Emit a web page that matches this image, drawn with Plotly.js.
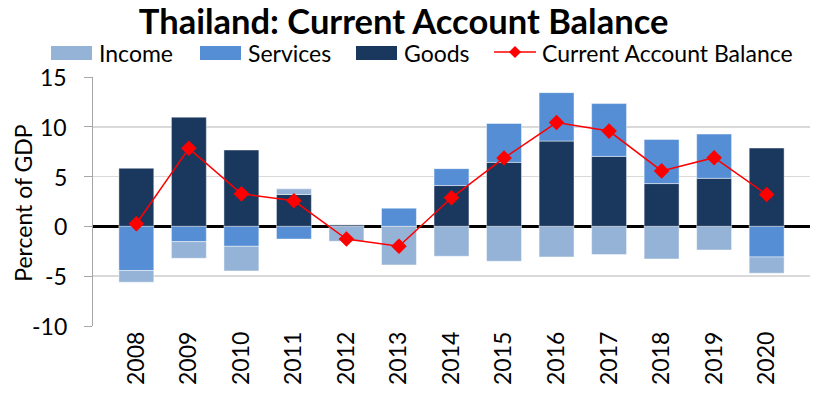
<!DOCTYPE html>
<html><head><meta charset="utf-8">
<script src="https://cdn.plot.ly/plotly-3.0.1.min.js"></script>
<style>html,body{margin:0;padding:0;background:#fff;}#chart{width:817px;height:400px;}</style>
</head><body><div id="chart"></div>
<script>
const years = ['2008','2009','2010','2011','2012','2013','2014','2015','2016','2017','2018','2019','2020'];
const goods = [5.84, 10.97, 7.67, 3.2, 0.17, 0.0, 4.1, 6.43, 8.57, 7.03, 4.3, 4.83, 7.87];
const services = [-4.43, -1.53, -2.0, -1.27, 0.0, 1.83, 1.7, 3.9, 4.86, 5.3, 4.43, 4.44, -3.07];
const income = [-1.17, -1.67, -2.47, 0.57, -1.5, -3.87, -3.0, -3.5, -3.07, -2.83, -3.27, -2.37, -1.63];
const currentAccount = [0.27, 7.84, 3.27, 2.57, -1.27, -2.0, 2.87, 6.87, 10.43, 9.57, 5.57, 6.9, 3.2];
const yTickVals = [-10, -5, 0, 5, 10, 15];
const yTickText = ['-10', '-5', '0', '5', '10', '15'];
const legendNames = ['Income', 'Services', 'Goods', 'Current Account Balance'];

const F = 'Lato, "Open Sans", sans-serif';
const COL = {goods: '#1a375e', services: '#558ed5', income: '#95b3d7', ca: '#ff0000'};
const edge = {color: 'rgba(255,255,255,0.45)', width: 1};
const traces = [
  {type: 'bar', name: 'Goods', x: years, y: goods, marker: {color: COL.goods, line: edge}},
  {type: 'bar', name: 'Services', x: years, y: services, marker: {color: COL.services, line: edge}},
  {type: 'bar', name: 'Income', x: years, y: income, marker: {color: COL.income, line: edge}},
  {type: 'scatter', mode: 'lines+markers', name: 'Current Account Balance', x: years, y: currentAccount,
   line: {color: COL.ca, width: 1.5}, marker: {symbol: 'diamond', size: 12, color: COL.ca}}
];

// plot-area geometry (pixels) used for the hand-built legend, y title and y tick labels
const PL = 93, PW = 717, PB = 326.5, PH = 249.5;
const px = v => (v - PL) / PW;
const py = v => (PB - v) / PH;
const legY = 53;
const shapes = [];
const annotations = [];
const swatches = [[51, COL.income], [200, COL.services], [356, COL.goods]];
swatches.forEach(([x0, c], i) => {
  shapes.push({type: 'rect', xref: 'paper', yref: 'paper', x0: px(x0), x1: px(x0 + 41), y0: py(legY + 7), y1: py(legY - 7),
               fillcolor: c, line: {width: 0}});
  annotations.push({xref: 'paper', yref: 'paper', x: px(x0 + 46), y: py(legY), xanchor: 'left', yanchor: 'middle',
                    text: legendNames[i], showarrow: false, font: {family: F, size: 23, color: '#000'}});
});
shapes.push({type: 'line', xref: 'paper', yref: 'paper', x0: px(494), x1: px(536), y0: py(legY - 1), y1: py(legY - 1),
             line: {color: COL.ca, width: 1.5}});
shapes.push({type: 'path', xref: 'paper', yref: 'paper', xsizemode: 'pixel', ysizemode: 'pixel',
             xanchor: px(515), yanchor: py(legY - 1), path: 'M -6 0 L 0 6 L 6 0 L 0 -6 Z',
             fillcolor: COL.ca, line: {width: 0}});
annotations.push({xref: 'paper', yref: 'paper', x: px(540), y: py(legY), xanchor: 'left', yanchor: 'middle',
                  text: legendNames[3], showarrow: false, font: {family: F, size: 23, color: '#000'}});
annotations.push({xref: 'paper', yref: 'paper', x: px(23), y: py(203), xanchor: 'center', yanchor: 'middle',
                  textangle: -90, text: 'Percent of GDP', showarrow: false, font: {family: F, size: 23, color: '#000'}});
yTickVals.forEach((v, i) => {
  annotations.push({xref: 'paper', yref: 'y', x: px(69), y: v, xanchor: 'right', yanchor: 'middle',
                    text: yTickText[i], showarrow: false, font: {family: F, size: 23, color: '#000'}});
});

const layout = {
  width: 817, height: 400,
  margin: {l: 93, r: 7, t: 77, b: 73.5},
  paper_bgcolor: '#fff', plot_bgcolor: '#fff',
  barmode: 'relative', bargap: 0.335,
  font: {family: F, size: 23, color: '#000'},
  title: {text: '<b>Thailand: Current Account Balance</b>', font: {family: F, size: 34.5, color: '#000'},
          x: 0.494, xanchor: 'center', y: 0.975, yanchor: 'top'},
  showlegend: false,
  shapes: shapes,
  annotations: annotations,
  xaxis: {type: 'category', showgrid: false, showline: false, ticks: '', tickangle: -90,
          tickfont: {family: F, size: 23}, zeroline: false},
  yaxis: {range: [-10, 15], tickvals: yTickVals, showticklabels: false, showgrid: true, gridcolor: '#d9d9d9', gridwidth: 1.5,
          zeroline: true, zerolinecolor: '#000', zerolinewidth: 3,
          showline: true, linecolor: '#a6a6a6', linewidth: 1.5, ticks: 'outside', ticklen: 8, tickcolor: '#a6a6a6'}
};
Plotly.newPlot('chart', traces, layout, {displayModeBar: false, staticPlot: true});
</script></body></html>
